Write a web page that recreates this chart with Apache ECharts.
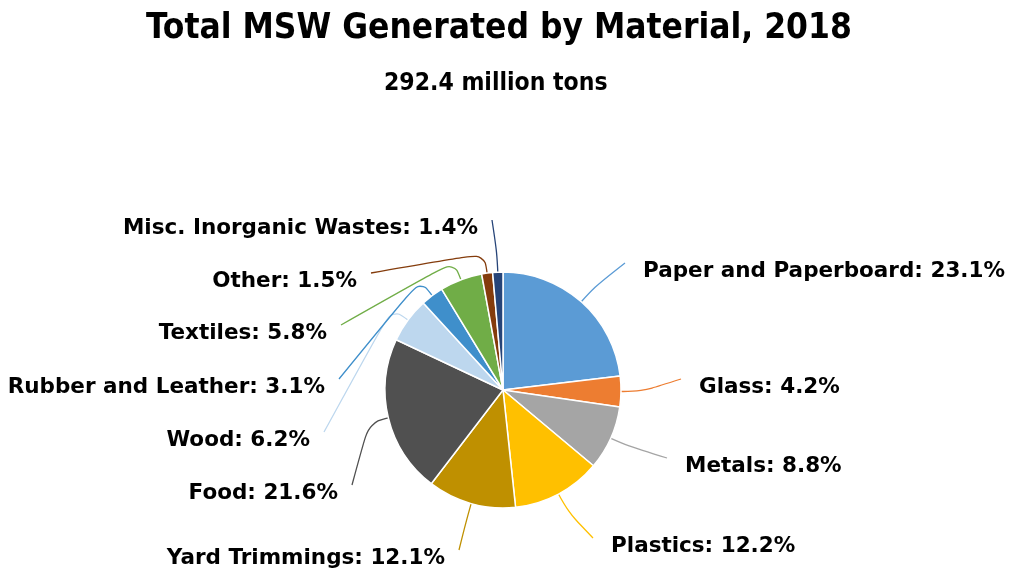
<!DOCTYPE html>
<html>
<head>
<meta charset="utf-8">
<script src="https://cdn.jsdelivr.net/npm/echarts@6/dist/echarts.min.js"></script>
<style>
html,body{margin:0;padding:0;background:#fff;}
#chart{width:1009px;height:573px;}
</style>
</head>
<body>
<div id="chart"></div>
<script>
const categories = ['Paper and Paperboard','Glass','Metals','Plastics','Yard Trimmings','Food','Wood','Rubber and Leather','Textiles','Other','Misc. Inorganic Wastes'];
const percents = [23.1, 4.2, 8.8, 12.2, 12.1, 21.6, 6.2, 3.1, 5.8, 1.5, 1.4];
const colors = ['#5B9BD5','#ED7D31','#A5A5A5','#FFC000','#BF9000','#505050','#BDD7EE','#3F8FCB','#70AD47','#843C0C','#264478'];
const titleText = 'Total MSW Generated by Material, 2018';
const subtitleText = '292.4 million tons';

// label anchor layout (x = text start for right side, text end for left side)
const labelPlace = [
  {x:643, y:271, align:'left'},
  {x:699, y:387, align:'left'},
  {x:685, y:466, align:'left'},
  {x:611, y:546, align:'left'},
  {x:445, y:558, align:'right'},
  {x:338, y:493, align:'right'},
  {x:310, y:440, align:'right'},
  {x:325, y:387, align:'right'},
  {x:327, y:333, align:'right'},
  {x:357, y:281, align:'right'},
  {x:478, y:228, align:'right'}
];
const pieCenter = [503, 390];
const pieRadius = 118;
const titleFont = "'DejaVu Sans Condensed','Liberation Sans Narrow',sans-serif";

const chart = echarts.init(document.getElementById('chart'));
const data = categories.map((c,i)=>({
  name: c, value: percents[i],
  itemStyle:{color: colors[i]},
  labelLine:{lineStyle:{color: colors[i]}}
}));
chart.setOption({
  animation:false,
  title:[{
    text: titleText,
    left:141, top:6,
    textStyle:{fontFamily:titleFont, fontWeight:'bold', fontSize:35, color:'#000'}
  },{
    text: subtitleText,
    left:379, top:66,
    textStyle:{fontFamily:titleFont, fontWeight:'bold', fontSize:24.5, color:'#000'}
  }],
  series:[{
    type:'pie',
    center:pieCenter,
    radius:[0,pieRadius],
    startAngle:90,
    clockwise:true,
    data: data,
    itemStyle:{borderColor:'#fff', borderWidth:1.5},
    label:{
      show:true,
      formatter: p => p.name + ': ' + p.value.toFixed(1) + '%',
      fontFamily:"'DejaVu Sans',sans-serif",
      fontWeight:'bold', fontSize:21.5, color:'#000'
    },
    labelLine:{show:true, smooth:0.4, length:15, length2:20, lineStyle:{width:1.3}},
    labelLayout: function(params){
      const p = labelPlace[params.dataIndex];
      const res = {x:p.x, y:p.y, align:p.align, verticalAlign:'middle'};
      const pts = params.labelLinePoints;
      if (pts && pts.length) {
        const dx = pts[0][0] - pieCenter[0], dy = pts[0][1] - pieCenter[1];
        const len = Math.sqrt(dx*dx + dy*dy) || 1;
        const ux = dx/len, uy = dy/len;
        const start = [pieCenter[0] + ux*(pieRadius-1), pieCenter[1] + uy*(pieRadius-1)];
        const mid = [pieCenter[0] + ux*(pieRadius+20), pieCenter[1] + uy*(pieRadius+20)];
        const end = [p.align === 'left' ? p.x - 18 : p.x + 14, p.y - 8];
        res.labelLinePoints = [start, mid, end];
      }
      return res;
    }
  }]
});
</script>
</body>
</html>
